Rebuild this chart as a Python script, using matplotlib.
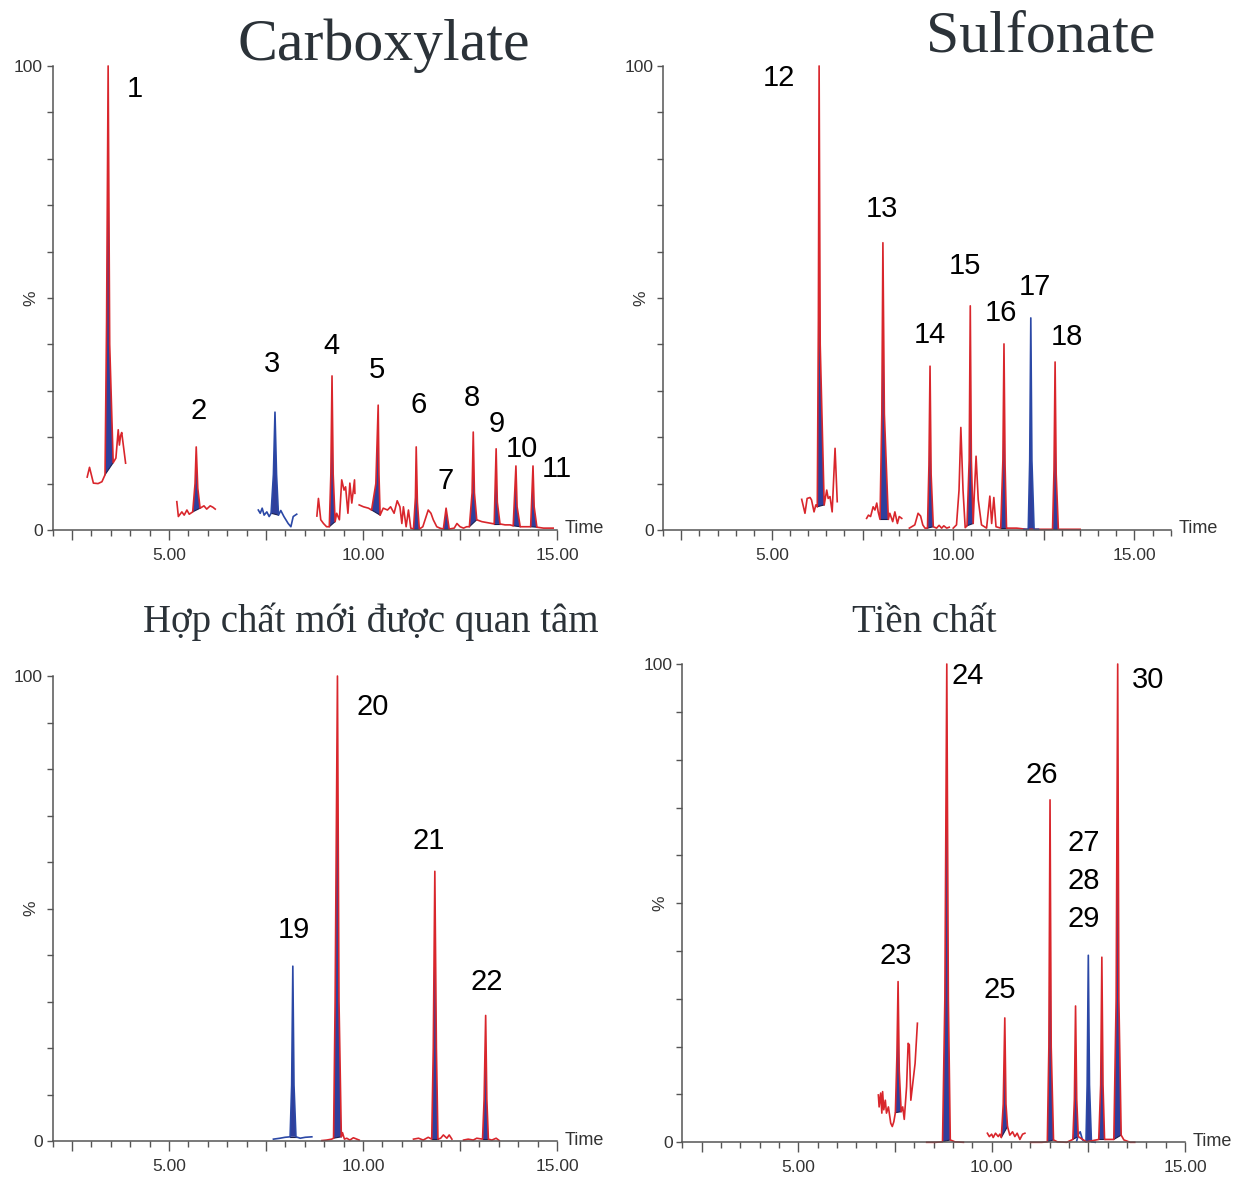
import matplotlib
matplotlib.use("Agg")
import matplotlib.pyplot as plt
import numpy as np
from matplotlib.ticker import MultipleLocator, FixedLocator

plt.rcParams['font.family'] = ['Liberation Sans', 'DejaVu Sans']

RED = "#d9262c"
BLUE = "#2b48a6"
FILL = "#2f3f9c"
SERIF = ['Liberation Serif', 'DejaVu Serif']

# ---- Carboxylate (time in min, intensity in %) ----
t1a = [2.89, 2.95, 3.05, 3.17, 3.27, 3.35, 3.39, 3.43, 3.47, 3.56, 3.63, 3.69, 3.72, 3.75, 3.78, 3.88]
y1a = [11.4, 13.5, 10.1, 10.0, 10.4, 11.9, 45, 100, 40, 14.5, 15.5, 21.6, 18.3, 20.3, 21.0, 14.4]
t1b = [5.20, 5.24, 5.33, 5.39, 5.46, 5.52, 5.61, 5.67, 5.70, 5.74, 5.80, 5.90, 5.97, 6.06, 6.13, 6.19]
y1b = [6.1, 2.9, 3.9, 3.2, 4.3, 3.4, 3.9, 10, 17.9, 9, 4.7, 5.2, 4.5, 5.2, 4.9, 4.5]
t1c = [7.30, 7.35, 7.40, 7.45, 7.52, 7.58, 7.63, 7.69, 7.73, 7.77, 7.82, 7.88, 7.96, 8.07, 8.14, 8.20, 8.29]
y1c = [4.3, 3.6, 4.7, 3.2, 3.9, 2.9, 3.6, 12, 25.4, 12, 3.2, 4.2, 2.9, 1.4, 0.7, 2.9, 3.4]
t1d = [8.81, 8.85, 8.91, 8.98, 9.06, 9.13, 9.17, 9.20, 9.23, 9.28, 9.32, 9.39, 9.45, 9.51, 9.55, 9.61, 9.66, 9.71, 9.78, 9.79]
y1d = [3.0, 6.8, 2.2, 1.4, 0.7, 0.7, 12, 33.2, 12, 1.8, 3.6, 2.2, 10.8, 8.6, 9.3, 3.6, 10.1, 5.8, 10.8, 7.9]
t1e = [9.90, 10.01, 10.14, 10.22, 10.33, 10.39, 10.41, 10.44, 10.52, 10.63, 10.71, 10.80, 10.88, 10.95,
       11.00, 11.04, 11.11, 11.17, 11.23, 11.30, 11.35, 11.37, 11.40, 11.45, 11.54, 11.68, 11.75, 11.81,
       11.90, 11.98, 12.07, 12.14, 12.22, 12.35, 12.42, 12.50, 12.59, 12.67, 12.74, 12.81, 12.84, 12.87,
       12.93, 13.06, 13.19, 13.32, 13.38, 13.43, 13.46, 13.53, 13.66, 13.79, 13.87, 13.94, 13.97, 14.05,
       14.22, 14.32, 14.38, 14.41, 14.48, 14.65, 14.90]
y1e = [5.4, 5.0, 4.7, 4.3, 10, 26.9, 12, 3.2, 4.7, 4.3, 5.0, 3.6, 6.3, 5.0,
       1.4, 5.0, 0.7, 4.3, 0.4, 0.2, 7, 17.9, 6, 0.2, 0.7, 4.3, 3.6, 2.2,
       0.7, 0.4, 0.2, 4.7, 0.2, 0.4, 1.4, 0.7, 0.4, 0.7, 0.7, 8, 21.1, 8,
       2.2, 1.8, 1.6, 1.4, 1.3, 17.5, 6, 1.3, 1.1, 1.1, 0.9, 13.8, 5, 0.7,
       0.7, 0.7, 13.8, 5, 0.6, 0.4, 0.4]
lab1 = ['1', '2', '3', '4', '5', '6', '7', '8', '9', '10', '11']
lab1_t = [4.12, 5.77, 7.65, 9.18, 10.36, 11.44, 12.14, 12.81, 13.45, 14.10, 15.0]
lab1_y = [95.0, 25.6, 35.8, 39.7, 34.5, 26.9, 10.6, 28.4, 22.8, 17.5, 13.1]

# ---- Sulfonate ----
t2a = [5.82, 5.91, 5.97, 6.05, 6.09, 6.16, 6.21, 6.25, 6.28, 6.30, 6.33, 6.44, 6.51, 6.55, 6.60, 6.66, 6.74, 6.80]
y2a = [6.6, 3.6, 6.8, 7.0, 6.5, 3.9, 5.4, 5.0, 45, 100, 40, 5.4, 8.6, 6.8, 7.2, 3.9, 17.6, 6.1]
t2b = [7.61, 7.66, 7.72, 7.79, 7.84, 7.89, 7.93, 7.98, 8.03, 8.06, 8.10, 8.21, 8.25, 8.33, 8.39, 8.46, 8.51, 8.58]
y2b = [2.5, 3.2, 2.9, 5.0, 4.3, 5.8, 3.9, 2.3, 25, 61.9, 25, 2.3, 3.6, 1.8, 3.9, 1.4, 2.9, 2.5]
t2c = [8.79, 8.94, 9.03, 9.10, 9.16, 9.22, 9.29, 9.33, 9.36, 9.39, 9.45, 9.54, 9.61, 9.68, 9.74, 9.82, 9.89]
y2c = [0.4, 1.1, 3.6, 3.0, 1.1, 0.4, 0.4, 14, 35.3, 12, 0.7, 0.4, 1.0, 0.4, 0.9, 0.4, 0.6]
t2d = [10.00, 10.09, 10.16, 10.21, 10.27, 10.33, 10.38, 10.44, 10.47, 10.50, 10.55, 10.58, 10.63, 10.69,
       10.78, 10.92, 11.01, 11.06, 11.12, 11.18, 11.31, 11.37, 11.40, 11.43, 11.47, 11.75, 12.02, 12.30,
       12.67, 12.74, 12.78, 12.81, 12.84, 12.90, 13.50]
y2d = [0.4, 1.1, 8.6, 22.1, 8.6, 0.5, 0.9, 15, 48.3, 15, 1.4, 7.5, 15.9, 6.5,
       1.1, 0.4, 7.3, 1.4, 7.0, 0.7, 0.4, 15, 40.1, 14, 0.4, 0.4, 0.15, 0.15,
       0.15, 0.15, 13, 36.2, 12, 0.15, 0.15]
t2e = [11.95, 12.07, 12.11, 12.14, 12.17, 12.23, 12.35]
y2e = [0.15, 0.15, 15, 45.7, 15, 0.15, 0.15]
lab2 = ['12', '13', '14', '15', '16', '17', '18']
lab2_t = [5.19, 8.03, 9.36, 10.32, 11.32, 12.25, 13.14]
lab2_y = [97.4, 69.2, 42.0, 56.9, 46.8, 52.4, 41.6]

# ---- Hợp chất mới được quan tâm ----
t3a = [7.69, 7.86, 7.99, 8.12, 8.16, 8.19, 8.22, 8.27, 8.38, 8.51, 8.68]
y3a = [0.4, 0.6, 0.8, 0.9, 12, 37.6, 12, 0.9, 0.6, 0.8, 0.9]
t3b = [8.94, 9.06, 9.19, 9.24, 9.28, 9.34, 9.38, 9.44, 9.47, 9.52, 9.58, 9.66, 9.75, 9.84, 9.90]
y3b = [0.1, 0.2, 0.4, 0.6, 30, 100, 30, 0.9, 1.8, 0.4, 0.6, 0.2, 0.7, 0.4, 0.2]
t3c = [11.30, 11.43, 11.55, 11.68, 11.77, 11.81, 11.85, 11.89, 11.93, 12.00, 12.07, 12.16, 12.22, 12.29]
y3c = [0.4, 0.6, 0.2, 0.8, 0.4, 20, 58.0, 20, 0.4, 0.6, 1.3, 0.6, 1.3, 0.4]
t3d = [12.59, 12.71, 12.84, 12.93, 13.08, 13.12, 13.16, 13.19, 13.23, 13.32, 13.43, 13.51]
y3d = [0.2, 0.4, 0.2, 0.6, 0.4, 9, 27.0, 9, 0.4, 0.2, 0.6, 0.1]
lab3 = ['19', '20', '21', '22']
lab3_t = [8.22, 10.26, 11.70, 13.20]
lab3_y = [45.4, 93.3, 64.5, 34.2]

# ---- Tiền chất ----
t4a = [7.07, 7.09, 7.13, 7.16, 7.18, 7.21, 7.25, 7.28, 7.33, 7.39, 7.43, 7.47, 7.51, 7.55, 7.58, 7.61,
       7.66, 7.70, 7.74, 7.80, 7.84, 7.87, 7.91, 7.97, 8.02, 8.08]
y4a = [9.9, 7.4, 10.3, 6.1, 10.6, 6.8, 8.8, 6.1, 7.4, 4.0, 3.3, 4.3, 6.2, 18, 33.6, 15,
       6.4, 7.4, 4.8, 11.6, 20.7, 20.4, 8.8, 13.0, 16.5, 24.9]
t4b = [8.32, 8.55, 8.73, 8.79, 8.84, 8.88, 8.93, 9.05, 9.27]
y4b = [0, 0, 0.1, 30, 100, 30, 0.5, 0.1, 0]
t4c = [9.89, 9.94, 10.00, 10.04, 10.10, 10.17, 10.21, 10.25, 10.30, 10.34, 10.37, 10.41, 10.47, 10.54,
       10.60, 10.66, 10.73, 10.80, 10.86]
y4c = [1.9, 1.2, 1.7, 1.0, 1.9, 1.2, 1.7, 1.0, 8, 26.0, 8, 3.3, 1.5, 2.2,
       1.2, 1.9, 0.6, 1.7, 1.9]
t4d = [11.01, 11.30, 11.44, 11.48, 11.51, 11.54, 11.60, 11.70, 11.94, 12.10, 12.14, 12.17, 12.20, 12.24,
       12.45, 12.77, 12.82, 12.85, 12.88, 12.92, 13.16, 13.22, 13.26, 13.29, 13.35, 13.42, 13.58, 13.70]
y4d = [0, 0, 0.1, 20, 71.6, 20, 0.5, 0.1, 0, 0.6, 9, 28.5, 9, 1.2,
       0.1, 0.6, 12, 38.7, 12, 0.6, 0.6, 30, 100, 30, 1.5, 0.5, 0, 0]
t4e = [12.20, 12.25, 12.29, 12.35, 12.44, 12.47, 12.50, 12.53, 12.58, 12.68]
y4e = [0.3, 1.8, 2.2, 0.5, 0.1, 12, 39.1, 12, 0.1, 0]
lab4 = ['23', '24', '25', '26', '27', '28', '29', '30']
lab4_t = [7.53, 9.39, 10.21, 11.30, 12.39, 12.39, 12.39, 14.04]
lab4_y = [39.0, 97.5, 31.9, 76.9, 62.6, 54.7, 46.7, 96.7]

# integration windows for the filled peaks (start, end)
panels = [
    dict(rect=[0.0425, 0.5501, 0.4071, 0.3939], xmax=15,
         traces=[(t1a, y1a, RED, [(3.35, 3.56)]),
                 (t1b, y1b, RED, [(5.61, 5.80)]),
                 (t1c, y1c, BLUE, [(7.63, 7.82)]),
                 (t1d, y1d, RED, [(9.13, 9.28)]),
                 (t1e, y1e, RED, [(10.22, 10.44), (11.30, 11.45), (12.07, 12.22), (12.74, 12.93),
                                  (13.38, 13.53), (13.87, 14.05), (14.32, 14.48)])],
         labels=(lab1, lab1_t, lab1_y)),
    dict(rect=[0.5353, 0.5501, 0.4096, 0.3939], xmax=16,
         traces=[(t2a, y2a, RED, [(6.25, 6.44)]),
                 (t2b, y2b, RED, [(7.98, 8.21)]),
                 (t2c, y2c, RED, [(9.29, 9.45)]),
                 (t2d, y2d, RED, [(10.38, 10.55), (11.31, 11.47), (12.74, 12.90)]),
                 (t2e, y2e, BLUE, [(12.07, 12.23)])],
         labels=(lab2, lab2_t, lab2_y)),
    dict(rect=[0.0425, 0.0314, 0.4071, 0.3947], xmax=15,
         traces=[(t3a, y3a, BLUE, [(8.12, 8.27)]),
                 (t3b, y3b, RED, [(9.24, 9.44)]),
                 (t3c, y3c, RED, [(11.77, 11.93)]),
                 (t3d, y3d, RED, [(13.08, 13.23)])],
         labels=(lab3, lab3_t, lab3_y)),
    dict(rect=[0.5507, 0.0303, 0.4057, 0.4060], xmax=15,
         traces=[(t4a, y4a, RED, [(7.51, 7.66)]),
                 (t4b, y4b, RED, [(8.73, 8.93)]),
                 (t4c, y4c, RED, [(10.25, 10.41)]),
                 (t4e, y4e, BLUE, [(12.44, 12.58)]),
                 (t4d, y4d, RED, [(11.44, 11.60), (12.10, 12.24), (12.77, 12.92), (13.16, 13.35)])],
         labels=(lab4, lab4_t, lab4_y)),
]

titles = [("Carboxylate", 384, 60, 43), ("Sulfonate", 1041, 52, 43),
          ("Hợp chất mới được quan tâm", 371, 632, 28), ("Tiền chất", 924, 632, 28)]

W, H = 1239, 1178
fig = plt.figure(figsize=(W / 100, H / 100), dpi=100)

for p in panels:
    ax = fig.add_axes(p['rect'])
    ax.set_xlim(2, p['xmax'])
    ax.set_ylim(0, 100)
    for s in ['top', 'right']:
        ax.spines[s].set_visible(False)
    for s in ['left', 'bottom']:
        ax.spines[s].set_color('#555555')
        ax.spines[s].set_linewidth(1.1)

    majors = np.arange(2.5, p['xmax'] + 0.01, 2.5)
    ax.xaxis.set_major_locator(FixedLocator(majors))
    ax.set_xticklabels(['%.2f' % v if v % 5 == 0 else '' for v in majors])
    ax.xaxis.set_minor_locator(MultipleLocator(0.5))
    ax.set_yticks([0, 100])
    ax.set_yticklabels(['0', '100'])
    ax.yaxis.set_minor_locator(MultipleLocator(10))
    ax.tick_params(axis='x', which='major', length=7, width=1.0, color='#555555',
                   labelsize=12.5, labelcolor='#333333', pad=6)
    ax.tick_params(axis='x', which='minor', length=4, width=1.0, color='#555555')
    ax.tick_params(axis='y', which='major', length=4, width=1.0, color='#555555',
                   labelsize=12.5, labelcolor='#333333', pad=3)
    ax.tick_params(axis='y', which='minor', length=4, width=1.0, color='#555555')

    for t, y, col, wins in p['traces']:
        t = np.array(t)
        y = np.array(y)
        for a, b in wins:
            m = (t >= a - 1e-6) & (t <= b + 1e-6)
            ax.fill(t[m], y[m], color=FILL, lw=0, zorder=1)
            ax.plot([t[m][0], t[m][-1]], [y[m][0], y[m][-1]], color='#1b2050', lw=0.8, zorder=1.5)
        ax.plot(t, y, color=col, lw=1.2, zorder=2, clip_on=False)

    names, lt, ly = p['labels']
    for s, x, y in zip(names, lt, ly):
        ax.text(x, y, s, ha='center', va='center', fontsize=21, color='black', zorder=3)

    ax.annotate('%', xy=(0, 0.5), xycoords='axes fraction', xytext=(-22, 0),
                textcoords='offset pixels', rotation=90, ha='center', va='center',
                fontsize=12.5, color='#333333')
    ax.annotate('Time', xy=(1, 0), xycoords='axes fraction', xytext=(8, 1),
                textcoords='offset pixels', ha='left', va='center',
                fontsize=13, color='#333333')

for txt, x, y, size in titles:
    fig.text(x / W, 1 - y / H, txt, ha='center', va='baseline', fontsize=size,
             family=SERIF, color='#2b3238')

fig.savefig('out.png', dpi=100)
